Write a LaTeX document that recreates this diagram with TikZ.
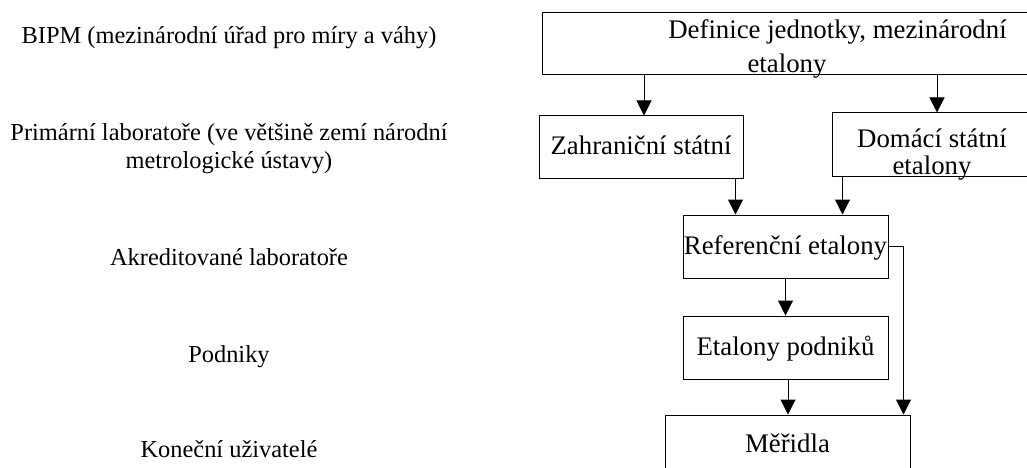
\documentclass[tikz,border=0pt]{standalone}
\usepackage{fontspec}
\setmainfont{Liberation Serif}
\usepackage{tikz}
\usetikzlibrary{arrows.meta}

\begin{document}
\begin{tikzpicture}[x=1pt, y=-1pt, font=\fontsize{24.4}{28}\selectfont,
		box/.style={draw, line width=1pt, inner sep=0pt, minimum height=63pt, text height=20pt, text depth=5pt, font=\fontsize{26.8}{32}\selectfont},
		boxtext/.style={align=center, font=\fontsize{26.8}{32}\selectfont},
		arr/.style={line width=1pt, -{Triangle[width=15pt, length=15pt]}}]
			\clip (0,0) rectangle (1027,468);
			% Levels
			\node[anchor=base] (bipm) at (229,44) {BIPM (mezinárodní úřad pro míry a váhy)};
			\node[align=center] (prim) at (229,148.5) {Primární laboratoře (ve většině zemí národní\\metrologické ústavy)};
			\node[anchor=base] (akr) at (229,265) {Akreditované laboratoře};
			\node[anchor=base] (podnik) at (229,362) {Podniky};
			\node[anchor=base] (konec) at (229,457) {Koneční uživatelé};
			% Boxes
			\node[box, minimum width=490pt, minimum height=62pt, label={[boxtext, yshift=-4.5pt]center:\hspace*{101pt}Definice jednotky, mezinárodní\\[2pt]etalony}] (def) at (787,44) {};
			\node[box, minimum width=204pt, minimum height=62pt] (zahr) at (641,147) {Zahraniční státní};
			\node[box, minimum width=200pt, label={[boxtext, yshift=-10.5pt]center:Domácí státní\\[-5pt]etalony}] (dom) at (932,144.5) {};
			\node[box, minimum width=205pt] (ref) at (785.5,246.5) {Referenční etalony};
			\node[box, minimum width=205pt] (etpod) at (785.5,347.5) {Etalony podniků};
			\node[box, minimum width=245pt, minimum height=60pt] (mer) at (787.5,445) {Měřidla};
			% Edges
			\draw[arr] ([xshift=3pt]def.south -| zahr.north) -- ([xshift=3pt]zahr.north);
			\draw[arr] ([xshift=5pt]def.south -| dom.north) -- ([xshift=5pt]dom.north);
			\draw[arr] ([xshift=-8pt]zahr.south east) -- ([xshift=-8pt]zahr.south east |- ref.north);
			\draw[arr] ([xshift=11pt]dom.south west) -- ([xshift=11pt]dom.south west |- ref.north);
			\draw[arr] (ref.south) -- (etpod.north);
			\draw[arr] ([xshift=2.5pt]etpod.south) -- ([xshift=2.5pt]etpod.south |- mer.north);
			\draw[arr] (ref.east) -| ([xshift=-7pt]mer.north east);
		\end{tikzpicture}
\end{document}
